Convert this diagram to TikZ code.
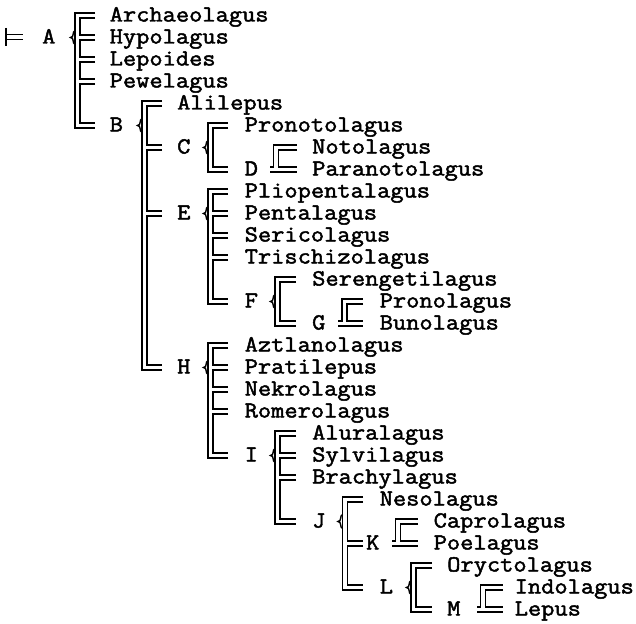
\documentclass[tikz,border=0pt]{standalone}
\usepackage{fontspec}
\newfontfamily\twfont{Latin Modern Mono}[FakeStretch=1.118,FakeBold=2]
\tikzset{
  tx/.style={anchor=base west, inner sep=0pt, font={\twfont\fontsize{23}{22}\selectfont}},
  dl/.style={line width=1.7pt, black, line join=miter, line cap=butt}
}
\def\hg{2.5}
\def\gp{5}
% multi-child bracket: #1 xo, #2 xe, #3 ytop, #4 ybot, #5 ylabel, #6 pairs a/b
\newcommand\multibr[6]{%
  \draw[dl] (#2,#3-\hg) -- (#1,#3-\hg) -- (#1,#4+\hg) -- (#2,#4+\hg);
  \foreach \a/\b in {#6} {\draw[dl] (#2,\a+\hg) -- (#1+\gp,\a+\hg) -- (#1+\gp,\b-\hg) -- (#2,\b-\hg);}
  \draw[dl, line width=1.4pt] (#1,#5-7) .. controls (#1-3,#5-6) and (#1-0.5,#5) .. (#1-4.5,#5)
     .. controls (#1-0.5,#5) and (#1-3,#5+6) .. (#1,#5+7);
}
% pair bracket: #1 xs, #2 xo, #3 xe, #4 ytop, #5 ybot
\newcommand\pairbr[5]{%
  \draw[dl] (#1,#5+\hg) -- (#3,#5+\hg);
  \draw[dl] (#1,#5-\hg) -- (#2,#5-\hg) -- (#2,#4-\hg) -- (#3,#4-\hg);
  \draw[dl] (#3,#4+\hg) -- (#2+\gp,#4+\hg) -- (#2+\gp,#5-\hg) -- (#3,#5-\hg);
}
\begin{document}
\begin{tikzpicture}[x=1pt,y=-1pt]
\fill[white] (0,0) rectangle (636,623);
\useasboundingbox (0,0) rectangle (636,623);
% root
\draw[dl] (6,28) -- (6,46);
\draw[dl] (6,34.5) -- (23,34.5);
\draw[dl] (6,39.5) -- (23,39.5);
% labels
\node[tx] (A) at (42,43.5) {A};
\node[tx] (B) at (109.5,131.5) {B};
\node[tx] (C) at (177,153.5) {C};
\node[tx] (D) at (244.5,175.5) {D};
\node[tx] (E) at (177,219.5) {E};
\node[tx] (F) at (244.5,307.5) {F};
\node[tx] (G) at (312,329.5) {G};
\node[tx] (H) at (177,373.5) {H};
\node[tx] (I) at (244.5,461.5) {I};
\node[tx] (J) at (312,527.5) {J};
\node[tx] (K) at (366,549.5) {K};
\node[tx] (L) at (379.5,593.5) {L};
\node[tx] (M) at (447,615.5) {M};
% leaves
\node[tx] (Archaeolagus) at (109.5,21.5) {Archaeolagus};
\node[tx] (Hypolagus) at (109.5,43.5) {Hypolagus};
\node[tx] (Lepoides) at (109.5,65.5) {Lepoides};
\node[tx] (Pewelagus) at (109.5,87.5) {Pewelagus};
\node[tx] (Alilepus) at (177,109.5) {Alilepus};
\node[tx] (Pronotolagus) at (244.5,131.5) {Pronotolagus};
\node[tx] (Notolagus) at (312,153.5) {Notolagus};
\node[tx] (Paranotolagus) at (312,175.5) {Paranotolagus};
\node[tx] (Pliopentalagus) at (244.5,197.5) {Pliopentalagus};
\node[tx] (Pentalagus) at (244.5,219.5) {Pentalagus};
\node[tx] (Sericolagus) at (244.5,241.5) {Sericolagus};
\node[tx] (Trischizolagus) at (244.5,263.5) {Trischizolagus};
\node[tx] (Serengetilagus) at (312,285.5) {Serengetilagus};
\node[tx] (Pronolagus) at (379.5,307.5) {Pronolagus};
\node[tx] (Bunolagus) at (379.5,329.5) {Bunolagus};
\node[tx] (Aztlanolagus) at (244.5,351.5) {Aztlanolagus};
\node[tx] (Pratilepus) at (244.5,373.5) {Pratilepus};
\node[tx] (Nekrolagus) at (244.5,395.5) {Nekrolagus};
\node[tx] (Romerolagus) at (244.5,417.5) {Romerolagus};
\node[tx] (Aluralagus) at (312,439.5) {Aluralagus};
\node[tx] (Sylvilagus) at (312,461.5) {Sylvilagus};
\node[tx] (Brachylagus) at (312,483.5) {Brachylagus};
\node[tx] (Nesolagus) at (379.5,505.5) {Nesolagus};
\node[tx] (Caprolagus) at (433.5,527.5) {Caprolagus};
\node[tx] (Poelagus) at (433.5,549.5) {Poelagus};
\node[tx] (Oryctolagus) at (447,571.5) {Oryctolagus};
\node[tx] (Indolagus) at (514.5,593.5) {Indolagus};
\node[tx] (Lepus) at (514.5,615.5) {Lepus};
% brackets
\multibr{75}{95}{15.5}{125.5}{37.5}{15.5/37.5,37.5/59.5,59.5/81.5,81.5/125.5}
\multibr{142}{162}{103.5}{367.5}{125.5}{103.5/147.5,147.5/213.5,213.5/367.5}
\multibr{208}{228}{125.5}{169.5}{147.5}{125.5/169.5}
\multibr{208}{228}{191.5}{301.5}{213.5}{191.5/213.5,213.5/235.5,235.5/257.5,257.5/301.5}
\multibr{275}{296}{279.5}{323.5}{301.5}{279.5/323.5}
\multibr{208}{228}{345.5}{455.5}{367.5}{345.5/367.5,367.5/389.5,389.5/411.5,411.5/455.5}
\multibr{275}{296}{433.5}{521.5}{455.5}{433.5/455.5,455.5/477.5,477.5/521.5}
\multibr{342.5}{363}{499.5}{587.5}{521.5}{499.5/543.5,543.5/587.5}
\multibr{411}{432}{565.5}{609.5}{587.5}{565.5/609.5}
\pairbr{270}{273.5}{297}{147.5}{169.5}
\pairbr{338}{342}{363}{301.5}{323.5}
\pairbr{392}{395.5}{418}{521.5}{543.5}
\pairbr{477}{480.5}{503}{587.5}{609.5}
\end{tikzpicture}
\end{document}
